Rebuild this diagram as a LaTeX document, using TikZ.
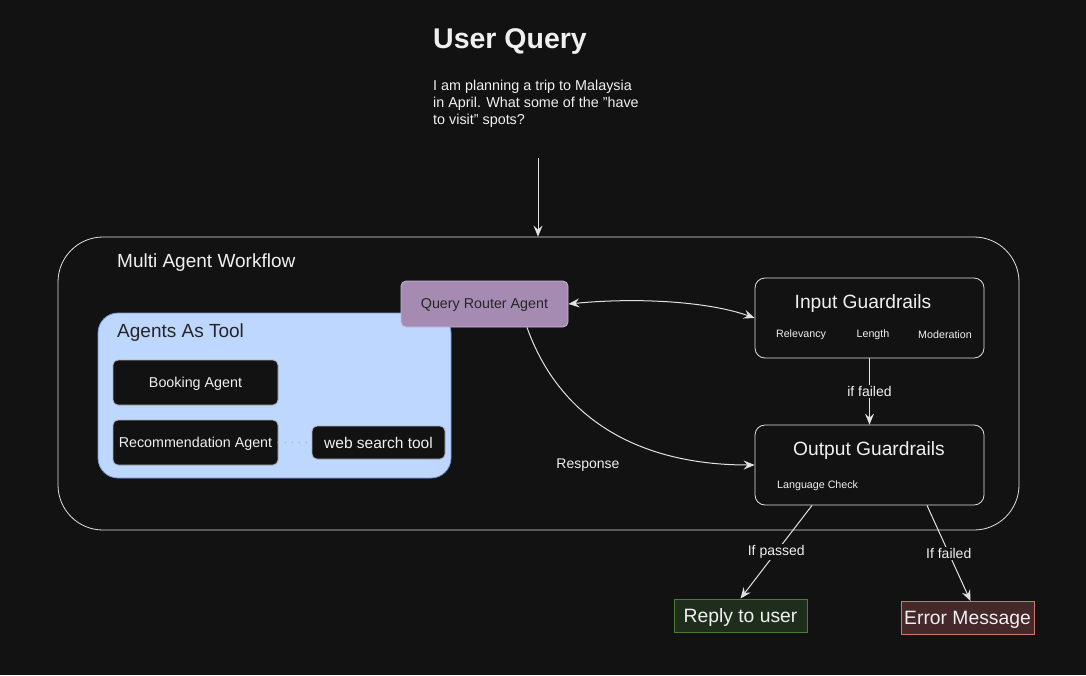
\documentclass[tikz,border=0pt]{standalone}
\usepackage{fontspec}
\setmainfont{Liberation Sans}
\usetikzlibrary{arrows.meta, positioning}

\definecolor{bgclr}{HTML}{121212}
\definecolor{lineclr}{HTML}{E2E2E2}
\definecolor{txtclr}{HTML}{F0F0F0}
\definecolor{toolfill}{HTML}{BED7FE}
\definecolor{toolline}{HTML}{7C91DC}
\definecolor{routerfill}{HTML}{A58BB2}
\definecolor{routerline}{HTML}{CDB4DA}
\definecolor{okfill}{HTML}{1F2E1C}
\definecolor{okline}{HTML}{4C7D2E}
\definecolor{errfill}{HTML}{45282A}
\definecolor{errline}{HTML}{C97A6C}

\newcommand{\fsz}[1]{\fontsize{#1}{1.2\dimexpr#1pt\relax}\selectfont}

\begin{document}
\begin{tikzpicture}[
    x = 1pt,
    y = -1pt,
    >= {Stealth[length=11pt, width=9pt, inset=4pt]},
    link/.style = {->, draw=lineclr, line width=1pt},
    lbl/.style = {fill=bgclr, text=txtclr, inner sep=1.5pt, font=\fsz{14}},
    ]

    \tikzstyle{every node}=[
    text = txtclr,
    inner sep = 0pt,
    ]
    \tikzstyle{agentbox}=[
    draw = lineclr!75!bgclr,
    fill = bgclr,
    rounded corners = 5pt,
    minimum width = 165pt,
    minimum height = 45pt,
    line width = 0.8pt,
    text depth = 0pt,
    font = \fsz{14.3},
    ]
    \tikzstyle{guardbox}=[
    draw = lineclr,
    fill = bgclr,
    rounded corners = 10pt,
    minimum width = 229pt,
    minimum height = 80pt,
    line width = 0.8pt,
    ]
    \tikzstyle{endbox}=[
    minimum width = 133pt,
    minimum height = 33pt,
    line width = 1pt,
    text depth = 0pt,
    font = \fsz{19.3},
    ]

    % canvas
    \fill[bgclr] (0,0) rectangle (1086,675);
    \useasboundingbox (0,0) rectangle (1086,675);

    % user query
    \node[anchor=west, font=\bfseries\fsz{28.5}] (title) at (433,42) {User Query};
    \node[anchor=north west, align=left, font=\fontsize{14.35}{17}\selectfont] (query) at (433,80)
        {I am planning a trip to Malaysia\\in April. What some of the "have\\to visit" spots?};
    \coordinate (qsrc) at (538,158);

    % containers
    \node[draw=lineclr, line width=0.8pt, rounded corners=45pt,
          minimum width=961pt, minimum height=293pt] (workflow) at (538.5,383.5) {};
    \node[anchor=west, font=\fsz{19}] (wftitle) at (117,263) {Multi Agent Workflow};

    \node[draw=toolline, fill=toolfill, line width=0.8pt, rounded corners=20pt,
          minimum width=353pt, minimum height=165pt] (tools) at (274.5,395.5) {};
    \node[anchor=west, text=black!85, font=\fsz{19}] (tooltitle) at (117,333) {Agents As Tool};

    % agents
    \node[agentbox] (booking) at (195.5,382.5) {Booking Agent};
    \node[agentbox] (recommend) at (195.5,442.5) {Recommendation Agent};
    \node[agentbox, minimum width=133pt, minimum height=33pt, font=\fsz{15.5}]
        (websearch) at (378.5,442.5) {web search tool};

    \node[draw=routerline, fill=routerfill, rounded corners=5pt, line width=0.8pt,
          minimum width=167pt, minimum height=46pt, text depth=0pt, text=black!85, font=\fsz{14.3}]
        (router) at (484.5,304) {Query Router Agent};

    % guardrails
    \node[guardbox] (input) at (869.5,318) {};
    \node[font=\fsz{19.2}] (intitle) at (863,304) {Input Guardrails};
    \node[font=\fsz{10.7}] (relevancy) at (801,334.5) {Relevancy};
    \node[font=\fsz{10.7}] (length) at (873,334.5) {Length};
    \node[font=\fsz{10.7}] (moderation) at (945,334.5) {Moderation};

    \node[guardbox] (output) at (869.5,465) {};
    \node[font=\fsz{19.2}] (outtitle) at (869,451) {Output Guardrails};
    \node[anchor=west, font=\fsz{10.7}] (langcheck) at (777,485.5) {Language Check};

    % results
    \node[endbox, draw=okline, fill=okfill] (reply) at (740.5,615.5) {Reply to user};
    \node[endbox, draw=errline, fill=errfill] (error) at (967.5,618) {Error Message};

    % connectors
    \draw[link] (qsrc) -- (qsrc |- workflow.north);
    \draw[link, <->] (router.east) .. controls (640,297) and (710,302) .. (input.west);
    \draw[link] ([xshift=42.5pt]router.south) .. controls (560,420) and (640,465) .. (output.west);
    \node[font=\fsz{14}] (response) at (588,465) {Response};
    \draw[link] (input.south) -- node[lbl] {if failed} (output.north);
    \draw[link] ([xshift=-57.5pt]output.south) -- node[lbl] {If passed} (reply.north);
    \draw[link] ([xshift=57.5pt]output.south) -- node[lbl] {If failed} ([xshift=3pt]error.north);
    \draw[lineclr!80!bgclr, line width=2pt, line cap=round, dash pattern=on 0pt off 7pt]
        (recommend.east) -- (websearch.west);
  \end{tikzpicture}
\end{document}
